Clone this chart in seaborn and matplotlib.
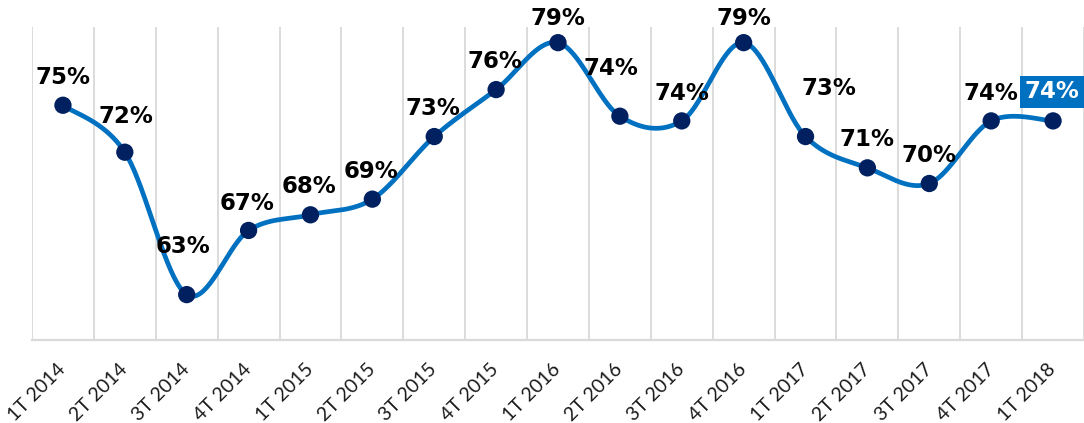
import numpy as np
import matplotlib
matplotlib.use("Agg")
import matplotlib.pyplot as plt
import seaborn as sns

quarters = ['1T 2014', '2T 2014', '3T 2014', '4T 2014', '1T 2015', '2T 2015',
            '3T 2015', '4T 2015', '1T 2016', '2T 2016', '3T 2016', '4T 2016',
            '1T 2017', '2T 2017', '3T 2017', '4T 2017', '1T 2018']
values = [75, 72, 62.9, 67, 68, 69, 73, 76, 79, 74.3, 74, 79, 73, 71, 70, 74, 74]
labels = ['75%', '72%', '63%', '67%', '68%', '69%', '73%', '76%', '79%', '74%',
          '74%', '79%', '73%', '71%', '70%', '74%', '74%']

# label offsets in pixels (dx, dy) relative to each marker
label_offsets = [(0, 28), (1, 36), (-4, 48), (-2, 27), (-1, 28), (-1, 28), (-1, 28),
                 (-1, 28), (0, 24), (-9, 48), (0, 27), (0, 24), (23, 48), (0, 28),
                 (0, 28), (0, 27), (-1, 29)]

LINE = '#0070C0'
DOT = '#002060'
GRID = '#D9D9D9'


def smooth(x, y, n=40):
    # catmull-rom spline, similar to excel's smoothed line
    P = np.column_stack([x, y]).astype(float)
    P = np.vstack([P[0], P, P[-1]])
    t = np.linspace(0, 1, n)[:, None]
    segs = []
    for i in range(1, len(P) - 2):
        p0, p1, p2, p3 = P[i - 1], P[i], P[i + 1], P[i + 2]
        seg = 0.5 * (2 * p1 + (p2 - p0) * t + (2 * p0 - 5 * p1 + 4 * p2 - p3) * t ** 2
                     + (3 * p1 - p0 - 3 * p2 + p3) * t ** 3)
        segs.append(seg if i == 1 else seg[1:])
    S = np.vstack(segs)
    return S[:, 0], S[:, 1]


sns.set_style("white")
plt.rcParams['font.family'] = ['DejaVu Sans']

fig = plt.figure(figsize=(10.84, 4.23), dpi=100)
ax = fig.add_axes([32 / 1084, 83 / 423, 1052 / 1084, 313 / 423])

xi = np.arange(len(quarters))
sx, sy = smooth(xi, values)
sns.lineplot(x=sx, y=sy, sort=False, estimator=None, color=LINE, linewidth=3.4, ax=ax, zorder=2)
sns.scatterplot(x=xi, y=values, s=155, color=DOT, edgecolor='none', ax=ax, zorder=3)

for i, (v, lab) in enumerate(zip(values, labels)):
    dx, dy = label_offsets[i]
    last = i == len(values) - 1
    ax.annotate(lab, (i, v), xytext=(dx, dy), textcoords='offset pixels',
                ha='center', va='center', fontsize=16.5, fontweight='bold',
                color='white' if last else 'black', zorder=4, annotation_clip=False,
                bbox=dict(boxstyle='square,pad=0.2', fc=LINE, ec='none') if last else None)

ax.set_xlim(-0.5, -0.5 + 1052 / 62.19)
ax.set_ylim(60, 80)
ax.set_yticks([])
ax.set_xticks(xi)
ax.set_xticklabels(quarters, rotation=45, ha='right', va='center',
                   rotation_mode='anchor', fontsize=14, family='Lato', color='#1a1a1a')
ax.tick_params(axis='x', length=0, pad=19)
ax.set_xticks(np.arange(-0.5, len(quarters), 1), minor=True)
ax.tick_params(axis='x', which='minor', length=0)
ax.grid(False)
ax.grid(which='minor', axis='x', color=GRID, linewidth=1.3)
for s in ['top', 'right', 'left']:
    ax.spines[s].set_visible(False)
ax.spines['bottom'].set_color(GRID)
ax.spines['bottom'].set_linewidth(1.6)
ax.set_xlabel('')
ax.set_ylabel('')

fig.savefig('out.png', dpi=100)
